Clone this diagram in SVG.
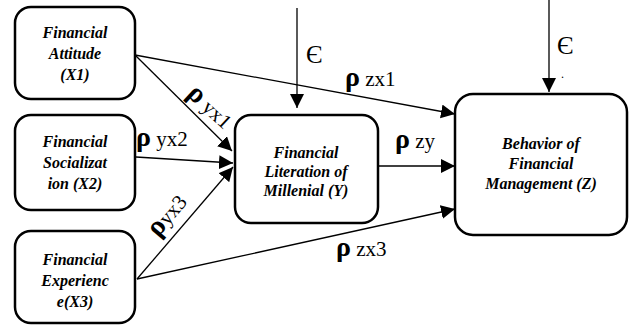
<svg xmlns="http://www.w3.org/2000/svg" width="629" height="325" viewBox="0 0 629 325">
<style>
.box{fill:#fff;stroke:#000;stroke-width:2.5}
.ln{stroke:#000;stroke-width:1.3;fill:none;marker-end:url(#ah)}
.rho{font-weight:bold;font-size:28px}
</style>
<defs>
<marker id="ah" markerUnits="userSpaceOnUse" markerWidth="15" markerHeight="15" refX="14" refY="7" orient="auto" viewBox="0 0 15 15">
<path d="M0,0 L14,7 L0,14 z" fill="#000"/>
</marker>
</defs>
<g id="connectors">
<path class="ln" d="M297,8 L297,108"/>
<path class="ln" d="M549,0 L549,92"/>
<path class="ln" d="M135,55 L232,151"/>
<path class="ln" d="M135,55 L455,114"/>
<path class="ln" d="M136,157 L233,163"/>
<path class="ln" d="M137,279 L233,167"/>
<path class="ln" d="M137,279 L455,209"/>
<path class="ln" d="M378,166 L455,166"/>
</g>
<g id="labels" font-family="Liberation Serif, serif" fill="#000" font-size="21">
<text x="306" y="63" font-size="25">Є</text>
<text x="557" y="54" font-size="25">Є</text>
<text x="561" y="78" font-size="12">.</text>
<text x="345" y="86"><tspan class="rho">ρ</tspan> zx1</text>
<text x="395" y="148"><tspan class="rho">ρ</tspan> zy</text>
<text x="136" y="146"><tspan class="rho">ρ</tspan> yx2</text>
<text x="336" y="256"><tspan class="rho">ρ</tspan> zx3</text>
<text transform="translate(186,95) rotate(43)"><tspan class="rho">ρ</tspan> yx1</text>
<text transform="translate(158,238) rotate(-50)"><tspan class="rho">ρ</tspan>yx3</text>
</g>
<g id="nodes" font-family="Liberation Serif, serif" font-weight="bold" font-style="italic" font-size="16" text-anchor="middle" fill="#000">
<g id="X1">
<rect class="box" x="15" y="7" width="120" height="92" rx="16"/>
<text x="75" y="38">Financial</text>
<text x="75" y="59">Attitude</text>
<text x="75" y="80">(X1)</text>
</g>
<g id="X2">
<rect class="box" x="15" y="115" width="120" height="95" rx="16"/>
<text x="75" y="147">Financial</text>
<text x="75" y="168">Socializat</text>
<text x="75" y="189">ion (X2)</text>
</g>
<g id="X3">
<rect class="box" x="15" y="231" width="120" height="92" rx="16"/>
<text x="75" y="265">Financial</text>
<text x="75" y="286">Experienc</text>
<text x="75" y="307">e(X3)</text>
</g>
<g id="Y">
<rect class="box" x="235" y="115" width="143" height="108" rx="16"/>
<text x="306" y="158">Financial</text>
<text x="306" y="177">Literation of</text>
<text x="306" y="196">Millenial (Y)</text>
</g>
<g id="Z">
<rect class="box" x="455" y="94" width="172" height="141" rx="18"/>
<text x="541" y="149">Behavior of</text>
<text x="541" y="169">Financial</text>
<text x="541" y="189">Management (Z)</text>
</g>
</g>
</svg>
